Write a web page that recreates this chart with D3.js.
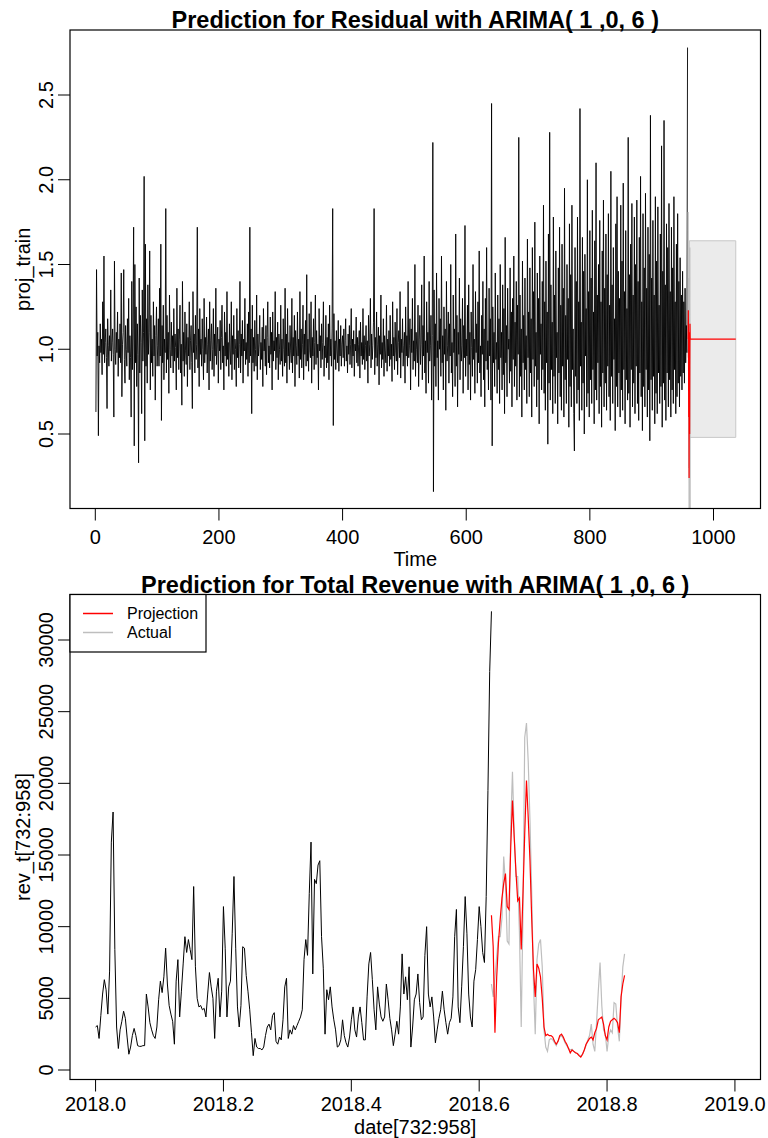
<!DOCTYPE html>
<html>
<head>
<meta charset="utf-8">
<script src="https://cdn.jsdelivr.net/npm/d3@7"></script>
<style>
  html, body { margin: 0; padding: 0; background: #fff; }
  svg { display: block; }
</style>
</head>
<body>
<svg id="chart" width="768" height="1138"></svg>
<script>
// ---------- Panel 1: residual series and its ARIMA(1,0,6) forecast ----------
const residual = [
0.63,1.47,0.96,1.10,0.49,1.02,0.92,1.15,0.98,1.06,0.85,1.28,0.97,1.55,0.92,1.04,1.12,0.95,0.65,1.18,1.02,0.90,1.08,0.99,1.35,
0.93,1.04,1.12,0.97,0.60,1.52,1.00,0.91,1.10,0.98,1.22,0.84,1.06,0.95,1.15,0.92,1.45,0.72,1.03,1.10,1.47,0.94,0.80,1.14,1.00,
0.90,1.18,0.98,1.30,0.82,1.08,0.95,0.60,1.40,0.88,1.12,1.72,0.43,1.50,0.92,1.25,0.78,1.15,0.97,0.33,1.42,0.86,1.20,1.04,0.62,
1.35,0.93,1.10,2.02,0.46,1.62,0.90,1.18,0.80,1.38,0.97,1.10,1.58,0.76,1.20,0.92,1.06,0.84,1.28,0.96,1.14,0.70,1.08,1.25,0.90,
1.02,1.18,0.90,1.36,0.96,1.62,0.58,1.14,0.92,1.26,0.82,1.06,0.98,1.83,0.86,1.20,0.94,1.10,0.74,1.32,1.00,0.89,1.16,0.96,1.08,
0.86,1.24,0.93,1.09,1.01,0.76,1.36,0.95,1.12,0.88,1.06,1.26,0.86,1.03,0.67,1.40,0.93,1.10,0.84,1.22,0.99,0.91,1.15,0.78,1.07,
0.96,1.28,0.88,1.05,1.14,0.92,0.65,1.34,0.98,1.09,0.86,1.20,0.94,1.03,1.72,0.89,1.12,0.78,1.24,0.97,1.06,0.90,1.18,1.00,0.82,
1.30,0.92,1.07,0.97,1.19,0.86,1.03,1.12,0.76,1.28,0.93,1.05,1.15,0.88,1.00,1.24,0.84,1.09,0.96,1.36,0.91,1.03,1.13,0.80,1.06,
0.99,1.17,0.88,1.07,1.26,0.92,1.02,0.76,1.22,0.96,1.10,0.90,1.34,0.94,1.04,0.84,1.15,0.99,0.91,1.28,0.82,1.08,0.97,1.20,0.88,
1.06,1.00,0.78,1.24,0.95,1.11,0.89,1.03,1.40,0.86,1.09,0.96,1.17,0.80,1.06,0.99,1.30,0.91,1.04,0.94,1.15,0.84,1.22,0.92,1.72,
0.96,1.12,0.62,1.26,0.92,1.07,0.87,1.17,1.00,0.90,1.32,0.82,1.09,0.96,1.03,1.20,0.88,1.04,0.94,1.13,0.78,1.24,0.99,1.06,0.90,
1.14,0.85,1.07,1.28,0.92,1.02,0.89,1.19,0.97,1.10,0.76,1.22,0.93,1.05,0.99,1.34,0.88,1.07,0.95,1.16,0.82,1.09,1.00,0.91,1.26,
0.93,1.06,0.84,1.18,1.00,0.90,1.36,0.92,1.09,0.80,1.24,0.96,1.04,0.88,1.14,0.99,0.92,1.30,0.86,1.07,0.96,1.20,0.78,1.11,1.02,
0.91,1.22,0.96,1.06,0.83,1.34,0.94,1.12,0.89,1.03,1.26,0.82,1.09,0.97,1.17,0.90,1.44,0.93,1.06,0.87,1.21,0.99,0.95,1.28,0.80,
1.07,0.96,1.18,0.88,1.04,1.32,0.91,1.11,0.95,1.03,0.76,1.24,0.99,1.08,0.89,1.15,0.94,1.04,1.28,0.84,1.02,0.95,1.20,0.89,1.07,
0.92,1.15,0.82,1.26,0.96,1.06,0.90,1.12,1.83,0.55,1.21,0.94,1.05,0.88,1.11,0.99,0.92,1.17,0.87,1.06,0.96,1.14,0.90,1.03,1.08,
0.95,1.12,0.90,1.05,1.18,0.93,1.02,0.86,1.09,0.97,1.14,0.91,1.03,1.24,0.89,1.06,0.96,1.11,0.84,1.03,0.99,1.19,0.92,1.07,0.90,
1.03,1.11,0.83,1.16,0.96,1.04,0.91,1.24,0.94,1.08,0.88,1.02,1.14,0.93,1.05,0.80,1.20,0.96,1.03,1.30,0.89,1.09,0.94,1.02,1.16,
1.83,0.85,1.07,0.95,1.22,0.90,1.03,1.13,0.79,1.08,0.97,1.32,0.89,1.04,0.94,1.18,0.84,1.08,0.99,0.92,1.26,0.87,1.06,0.96,1.11,
0.90,1.20,0.94,1.03,0.81,1.28,0.96,1.07,0.88,1.16,0.99,0.93,1.24,0.85,1.04,1.11,0.95,1.34,0.83,1.06,0.98,1.18,0.90,1.02,1.10,
0.80,1.25,0.96,1.08,0.90,1.40,0.95,1.02,1.18,0.76,1.12,0.98,1.30,0.88,1.05,0.93,1.50,0.84,1.10,1.00,0.92,1.26,0.78,1.06,1.20,
0.91,1.03,1.38,0.82,1.14,0.96,1.55,0.86,1.05,0.74,1.28,0.98,1.10,0.80,1.40,0.93,1.02,1.20,0.70,1.08,2.22,0.16,1.35,0.90,1.15,
0.78,1.45,0.95,1.05,0.70,1.30,1.00,1.18,0.84,1.55,0.92,1.08,0.76,1.25,0.97,1.12,0.64,1.40,0.93,1.02,1.22,0.80,1.15,0.96,1.50,
0.86,1.04,0.72,1.32,0.98,1.12,0.78,1.68,0.90,1.20,0.66,1.10,0.97,1.42,0.82,1.18,0.93,1.02,1.30,0.74,1.14,0.95,1.73,0.84,1.06,
0.96,1.26,0.76,1.38,0.91,1.10,0.70,1.22,1.01,0.84,1.50,0.94,1.06,0.74,1.34,0.98,1.15,0.80,1.28,0.92,1.58,0.86,1.02,0.72,1.20,
0.97,1.40,0.82,1.12,0.66,1.30,0.93,1.60,0.88,1.05,0.76,1.36,0.96,1.18,0.70,2.45,0.43,1.25,0.92,1.10,0.78,1.45,0.94,1.04,0.74,
1.32,0.88,1.18,0.68,1.50,0.95,1.10,0.76,1.38,0.85,1.24,0.62,1.66,0.92,1.14,0.72,1.36,1.00,1.06,0.80,1.48,0.87,1.22,0.66,1.30,
0.94,1.55,0.78,1.16,0.90,1.40,0.70,1.26,0.97,2.25,0.72,1.32,0.84,1.12,0.60,1.52,0.92,1.20,0.76,1.42,0.88,1.08,0.68,1.65,0.95,
1.22,0.72,1.48,0.86,1.18,0.60,1.60,0.94,1.34,0.78,1.75,0.90,1.10,0.66,1.45,0.82,1.30,0.56,1.55,0.97,1.15,0.76,1.40,0.88,1.85,
0.74,1.28,0.64,1.52,0.92,1.22,0.44,1.68,0.80,2.28,0.70,1.38,0.88,1.16,0.62,1.78,0.84,1.32,0.68,1.58,0.95,1.10,0.56,1.48,0.86,
1.72,0.72,1.26,0.64,1.62,0.90,1.36,0.60,1.95,0.82,1.20,0.68,1.50,0.94,1.30,0.54,1.74,0.78,1.44,0.66,1.85,0.88,1.12,0.62,0.40,
1.60,0.84,1.40,0.68,1.78,0.76,1.28,0.58,2.42,0.90,1.16,0.64,1.66,0.80,1.46,0.50,1.56,0.96,1.24,0.66,2.00,0.74,1.34,0.60,1.70,
0.82,1.42,0.68,1.82,0.88,1.22,0.56,1.64,0.76,2.10,0.70,1.32,0.92,1.50,0.62,1.76,0.78,1.28,0.54,1.58,0.86,1.88,0.66,1.36,0.80,
1.68,0.64,1.44,0.90,1.80,0.72,1.26,0.58,2.05,0.84,1.38,0.68,1.60,0.94,1.18,0.52,1.74,0.78,1.90,0.66,1.46,0.86,1.30,0.60,1.85,
0.76,1.52,0.64,1.98,0.88,1.34,0.56,1.70,0.82,1.24,0.70,2.25,0.74,1.44,0.54,1.62,0.88,1.86,0.66,1.32,0.80,1.78,0.62,1.50,0.90,
1.88,0.68,1.40,0.58,1.66,0.86,2.02,0.72,1.28,0.52,1.80,0.78,1.48,0.66,1.92,0.88,1.36,0.60,1.72,0.76,1.56,0.46,2.38,0.82,1.42,
0.64,1.76,0.84,1.32,0.56,1.90,0.74,1.52,0.62,1.84,0.86,1.26,0.68,1.68,0.78,2.20,0.54,1.46,0.80,2.35,0.70,1.38,0.58,1.74,0.86,
1.60,0.66,1.86,0.82,1.34,0.60,1.72,0.76,1.48,0.68,1.90,0.88,1.28,0.62,1.62,0.72,1.80,0.80,1.40,0.66,1.54,0.84,1.32,0.76,1.46,
0.86,1.28,0.80,1.36,0.92,1.14,0.98,2.78
];
const residualTime = d3.range(1, residual.length + 1);

// hold-out residuals (grey) and projected residuals (red) right after the training span
const residualTestTime = [959.0, 959.3, 959.6, 959.9, 960.2, 960.5, 960.8, 961.1, 961.4, 961.7, 962.0, 962.3];
const residualTestActual = [1.81, 0.95, 1.42, 0.30, 1.10, 0.02, 0.85, 1.25, 0.40, 1.60, 0.70, 0.02];
const residualTestProj = [1.06, 1.23, 0.95, 0.60, 1.10, 0.24, 0.85, 1.02, 0.50, 0.90, 1.15, 1.06];

// forecast mean and prediction interval
const fcTime = [961, 1036];
const fcMean = [1.06, 1.06];
const fcLower = [0.48, 0.48];
const fcUpper = [1.64, 1.64];

const resXTicks = [0, 200, 400, 600, 800, 1000];
const resYTicks = [0.5, 1.0, 1.5, 2.0, 2.5];

// ---------- Panel 2: total revenue (thousands), training days then projection vs actual ----------
const revenueTrainK = [
3.0,3.1,2.2,3.8,5.3,6.3,5.6,3.9,6.9,15.9,18.0,8.4,3.0,1.5,2.8,3.4,4.1,3.6,2.3,1.1,
1.6,2.4,2.9,2.4,1.7,1.65,1.65,1.7,1.7,5.3,4.4,3.3,2.8,2.4,2.2,3.0,4.9,6.2,5.4,6.5,
8.5,6.0,4.5,3.9,3.4,1.8,6.2,7.7,3.7,5.5,7.4,9.3,8.2,9.1,8.4,7.7,12.8,7.2,5.0,4.4,
4.5,4.2,4.3,3.7,5.3,6.8,5.8,5.0,2.2,5.5,6.4,3.7,5.5,11.4,8.5,3.7,5.8,6.2,9.5,13.5,
8.5,4.4,3.0,4.5,8.6,8.5,6.6,5.5,4.2,2.6,1.0,2.2,1.6,1.5,1.5,1.4,1.6,2.4,3.0,3.2,
2.8,3.8,4.0,2.0,1.8,2.3,2.1,3.5,5.8,6.4,2.2,2.8,2.5,3.1,2.8,
3.1,3.4,3.7,4.2,7.7,9.1,8.0,12.3,15.9,6.7,13.3,13.0,14.3,14.6,9.3,7.1,2.5,5.6,4.9,5.8,
4.4,3.5,2.8,1.6,1.7,2.1,3.5,2.4,1.9,1.6,2.3,3.5,4.4,2.8,2.3,3.7,4.4,3.3,2.1,2.1,
5.1,7.4,8.2,6.3,4.2,2.8,5.8,4.6,3.7,3.4,3.7,6.0,4.9,3.6,2.8,1.7,2.5,3.4,2.5,4.4,
8.1,5.3,6.5,4.9,7.2,1.6,3.0,4.9,5.3,6.7,4.7,3.5,3.7,8.0,10.0,5.3,4.4,5.1,3.7,1.9,
2.8,3.6,4.2,5.5,4.2,3.3,2.5,3.3,3.6,5.1,9.3,11.2,4.4,3.3,5.8,8.6,12.1,9.5,5.3,3.7,
3.0,6.2,7.0,9.1,11.4,10.0,8.2,7.5,12.1,19.5,27.8,32.0
];
const revenueProjK = [
10.8,8.6,2.6,6.5,8.9,10.5,12.0,13.0,13.7,11.4,11.2,15.5,18.8,16.2,13.8,11.8,12.0,8.4,12.3,16.5,
20.2,17.6,14.6,10.5,7.0,5.1,7.4,7.1,6.5,5.0,3.0,2.4,2.5,2.4,2.4,2.3,2.0,1.8,2.0,2.4,
2.5,2.3,2.0,1.8,1.5,1.2,1.4,1.3,1.2,1.15,1.0,0.9,1.1,1.4,1.8,2.0,2.2,2.3,2.1,2.6,
2.9,3.5,3.6,3.7,3.2,2.4,2.1,3.0,3.4,3.5,3.6,3.5,3.3,2.6,5.1,6.0,6.6
];
const revenueActualK = [
6.0,5.1,6.5,7.9,9.3,9.3,10.6,14.9,13.0,9.0,8.8,17.0,20.8,16.5,13.5,13.5,9.5,3.0,11.0,23.2,
24.2,21.5,17.4,12.3,6.0,2.5,7.7,8.8,9.1,7.2,2.8,1.6,1.3,2.1,2.2,2.1,1.9,1.7,2.0,2.3,
2.4,2.2,1.9,1.7,1.5,1.4,1.45,1.3,1.2,1.15,1.05,0.95,1.1,1.4,1.7,2.1,2.4,3.2,1.8,1.3,
3.3,5.5,7.5,4.5,2.8,2.5,1.3,2.4,2.8,2.6,4.7,4.6,3.0,2.0,4.9,7.2,8.1
];
const daysPerYear = 365;
const startYear = 2018;
const revenueTrain = revenueTrainK.map(v => v * 1000);
const revenueProj = revenueProjK.map(v => v * 1000);
const revenueActual = revenueActualK.map(v => v * 1000);
const trainDates = revenueTrain.map((_, i) => startYear + i / daysPerYear);
const testOffset = revenueTrain.length - 1;
const testDates = revenueProj.map((_, i) => startYear + (testOffset + i) / daysPerYear);

const revXLim = [2018, 2019];
const revXTicks = [2018.0, 2018.2, 2018.4, 2018.6, 2018.8, 2019.0];
const revYTicks = [0, 5000, 10000, 15000, 20000, 25000, 30000];

const legendLabels = ["Projection", "Actual"];
const legendColors = ["#ff0000", "#bebebe"];

// ---------- drawing ----------
const FONT = "'Liberation Sans', Arial, Helvetica, sans-serif";
const svg = d3.select("#chart");
svg.append("rect").attr("width", 768).attr("height", 1138).attr("fill", "#fff");

function panel(cfg) {
  const g = svg.append("g");
  const clipId = "clip-" + cfg.id;
  svg.append("clipPath").attr("id", clipId)
    .append("rect")
    .attr("x", cfg.box.left).attr("y", cfg.box.top)
    .attr("width", cfg.box.right - cfg.box.left)
    .attr("height", cfg.box.bottom - cfg.box.top);
  const plot = g.append("g").attr("clip-path", `url(#${clipId})`);

  const axes = g.append("g");
  cfg.xTicks.forEach(t => {
    const x = cfg.x(t);
    axes.append("line").attr("x1", x).attr("x2", x)
      .attr("y1", cfg.box.bottom).attr("y2", cfg.box.bottom + 12)
      .attr("stroke", "#000").attr("stroke-width", 1);
    axes.append("text").attr("x", x).attr("y", cfg.box.bottom + cfg.xLabelDy)
      .attr("text-anchor", "middle").attr("font-family", FONT)
      .attr("font-size", 20).attr("fill", "#000")
      .text(cfg.xFormat(t));
  });
  cfg.yTicks.forEach(t => {
    const y = cfg.y(t);
    axes.append("line").attr("x1", cfg.box.left - 12).attr("x2", cfg.box.left)
      .attr("y1", y).attr("y2", y)
      .attr("stroke", "#000").attr("stroke-width", 1);
    axes.append("text")
      .attr("transform", `translate(${cfg.box.left - 17},${y}) rotate(-90)`)
      .attr("text-anchor", "middle").attr("font-family", FONT)
      .attr("font-size", 20).attr("fill", "#000")
      .text(cfg.yFormat(t));
  });
  g.append("text").attr("x", (cfg.box.left + cfg.box.right) / 2)
    .attr("y", cfg.box.bottom + cfg.xTitleDy)
    .attr("text-anchor", "middle").attr("font-family", FONT)
    .attr("font-size", 20).attr("fill", "#000").text(cfg.xTitle);
  g.append("text")
    .attr("transform", `translate(30,${(cfg.box.top + cfg.box.bottom) / 2}) rotate(-90)`)
    .attr("text-anchor", "middle").attr("font-family", FONT)
    .attr("font-size", 20).attr("fill", "#000").text(cfg.yTitle);
  g.append("text").attr("x", (cfg.box.left + cfg.box.right) / 2)
    .attr("y", cfg.box.top - 2)
    .attr("text-anchor", "middle").attr("font-family", FONT)
    .attr("font-size", 23.5).attr("font-weight", "bold").attr("fill", "#000")
    .text(cfg.title);
  return { g, plot };
}

// Panel 1
const box1 = { left: 70, right: 760.5, top: 30, bottom: 508.5 };
const xRes = d3.scaleLinear().domain([0, 1000]).range([95.3, 713.5]);
const yRes = d3.scaleLinear().domain([0.5, 2.5]).range([434, 95]);
const p1 = panel({
  id: "res", box: box1, x: xRes, y: yRes,
  xTicks: resXTicks, yTicks: resYTicks,
  xFormat: d3.format("d"), yFormat: d3.format(".1f"),
  xLabelDy: 35, xTitleDy: 57,
  xTitle: "Time", yTitle: "proj_train",
  title: "Prediction for Residual with ARIMA( 1 ,0, 6 )"
});

p1.plot.append("path")
  .datum(residual)
  .attr("fill", "none").attr("stroke", "#000").attr("stroke-width", 0.9)
  .attr("d", d3.line().x((d, i) => xRes(residualTime[i])).y(d => yRes(d)));

const band = fcTime.map((t, i) => ({ t, lo: fcLower[i], hi: fcUpper[i] }));
p1.plot.append("path")
  .datum(band)
  .attr("fill", "#ebebeb").attr("stroke", "#c8c8c8").attr("stroke-width", 1)
  .attr("d", d3.area().x(d => xRes(d.t)).y0(d => yRes(d.lo)).y1(d => yRes(d.hi)));

p1.plot.append("path")
  .datum(residualTestActual)
  .attr("fill", "none").attr("stroke", "#bebebe").attr("stroke-width", 1.2)
  .attr("d", d3.line().x((d, i) => xRes(residualTestTime[i])).y(d => yRes(d)));
p1.plot.append("path")
  .datum(residualTestProj)
  .attr("fill", "none").attr("stroke", "#ff0000").attr("stroke-width", 1.2)
  .attr("d", d3.line().x((d, i) => xRes(residualTestTime[i])).y(d => yRes(d)));
p1.plot.append("path")
  .datum(fcMean)
  .attr("fill", "none").attr("stroke", "#ff0000").attr("stroke-width", 1.2)
  .attr("d", d3.line().x((d, i) => xRes(fcTime[i])).y(d => yRes(d)));

p1.g.append("rect")
  .attr("x", box1.left).attr("y", box1.top)
  .attr("width", box1.right - box1.left).attr("height", box1.bottom - box1.top)
  .attr("fill", "none").attr("stroke", "#000").attr("stroke-width", 1.2);

// Panel 2: R-style 4% padding around the x limits
const box2 = { left: 70, right: 760.5, top: 594.5, bottom: 1079.5 };
const pad = (revXLim[1] - revXLim[0]) * 0.04;
const xRev = d3.scaleLinear().domain([revXLim[0] - pad, revXLim[1] + pad]).range([box2.left, box2.right]);
const yRev = d3.scaleLinear().domain([0, 30000]).range([1070, 640]);
const p2 = panel({
  id: "rev", box: box2, x: xRev, y: yRev,
  xTicks: revXTicks, yTicks: revYTicks,
  xFormat: d3.format(".1f"), yFormat: d3.format("d"),
  xLabelDy: 31, xTitleDy: 54,
  xTitle: "date[732:958]", yTitle: "rev_t[732:958]",
  title: "Prediction for Total Revenue with ARIMA( 1 ,0, 6 )"
});

p2.plot.append("path")
  .datum(revenueTrain)
  .attr("fill", "none").attr("stroke", "#000").attr("stroke-width", 1)
  .attr("d", d3.line().x((d, i) => xRev(trainDates[i])).y(d => yRev(d)));
p2.plot.append("path")
  .datum(revenueActual)
  .attr("fill", "none").attr("stroke", "#bebebe").attr("stroke-width", 1.2)
  .attr("d", d3.line().x((d, i) => xRev(testDates[i])).y(d => yRev(d)));
p2.plot.append("path")
  .datum(revenueProj)
  .attr("fill", "none").attr("stroke", "#ff0000").attr("stroke-width", 1.2)
  .attr("d", d3.line().x((d, i) => xRev(testDates[i])).y(d => yRev(d)));

p2.g.append("rect")
  .attr("x", box2.left).attr("y", box2.top)
  .attr("width", box2.right - box2.left).attr("height", box2.bottom - box2.top)
  .attr("fill", "none").attr("stroke", "#000").attr("stroke-width", 1.2);

const leg = p2.g.append("g");
leg.append("rect")
  .attr("x", box2.left).attr("y", box2.top)
  .attr("width", 136).attr("height", 57.5)
  .attr("fill", "#fff").attr("stroke", "#000").attr("stroke-width", 1.2);
legendLabels.forEach((lab, i) => {
  const y = box2.top + 19 + i * 19;
  leg.append("line").attr("x1", box2.left + 13).attr("x2", box2.left + 43)
    .attr("y1", y).attr("y2", y)
    .attr("stroke", legendColors[i]).attr("stroke-width", 1.5);
  leg.append("text").attr("x", box2.left + 57).attr("y", y + 5.5)
    .attr("font-family", FONT).attr("font-size", 16).attr("fill", "#000")
    .text(lab);
});
</script>
</body>
</html>
